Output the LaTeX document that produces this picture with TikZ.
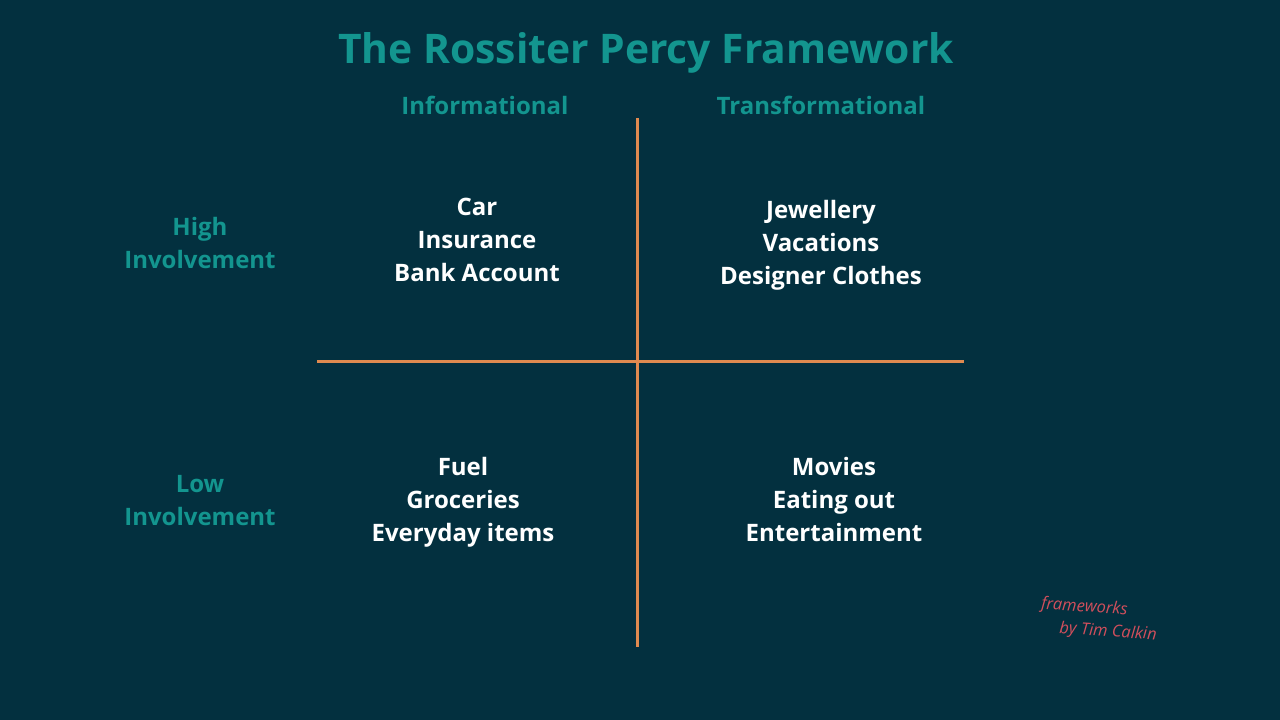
\documentclass[tikz,border=0pt]{standalone}
\usepackage{fontspec}
\setmainfont{Open Sans}[BoldFont={* Bold}]
\definecolor{bg}{HTML}{03303F}
\definecolor{teal}{HTML}{13958F}
\definecolor{axis}{HTML}{E08A50}
\definecolor{sig}{HTML}{D24F5C}
\begin{document}
\begin{tikzpicture}[x=1pt,y=-1pt,
  title/.style={text=teal,font=\bfseries\fontsize{40.8}{46}\selectfont},
  head/.style={text=teal,font=\bfseries\fontsize{24}{33}\selectfont,align=center},
  cell/.style={text=white,font=\bfseries\fontsize{24}{33}\selectfont,align=center},
  axisline/.style={draw=axis,line width=3pt},
  signature/.style={text=sig,font=\itshape\fontsize{16.5}{23}\selectfont,align=left}]
\fill[bg] (0,0) rectangle (1280,720);
\useasboundingbox (0,0) rectangle (1280,720);
\node[title] (t) at (646,53) {The Rossiter Percy Framework};
\node[head] (ci) at (485,105) {Informational};
\node[head] (ct) at (821,105) {Transformational};
\node[head] (rh) at (200,243) {High\\Involvement};
\node[head] (rl) at (200,501) {Low\\Involvement};
\node[cell] (q1) at (477,240) {Car\\Insurance\\Bank Account};
\node[cell] (q2) at (821,245) {Jewellery\\Vacations\\Designer Clothes};
\node[cell] (q3) at (463,502) {Fuel\\Groceries\\Everyday items};
\node[cell] (q4) at (834,499) {Movies\\Eating out\\Entertainment};
\coordinate (vt) at (637,118);
\coordinate (vb) at (637,647);
\coordinate (hl) at (317,361);
\coordinate (hr) at (964,361);
\draw[axisline] (vt) -- (vb);
\draw[axisline] (hl) -- (hr);
\node[signature,rotate=-4] (s) at (1099,620) {frameworks\\\hspace*{1.2em}by Tim Calkin};
\end{tikzpicture}
\end{document}
